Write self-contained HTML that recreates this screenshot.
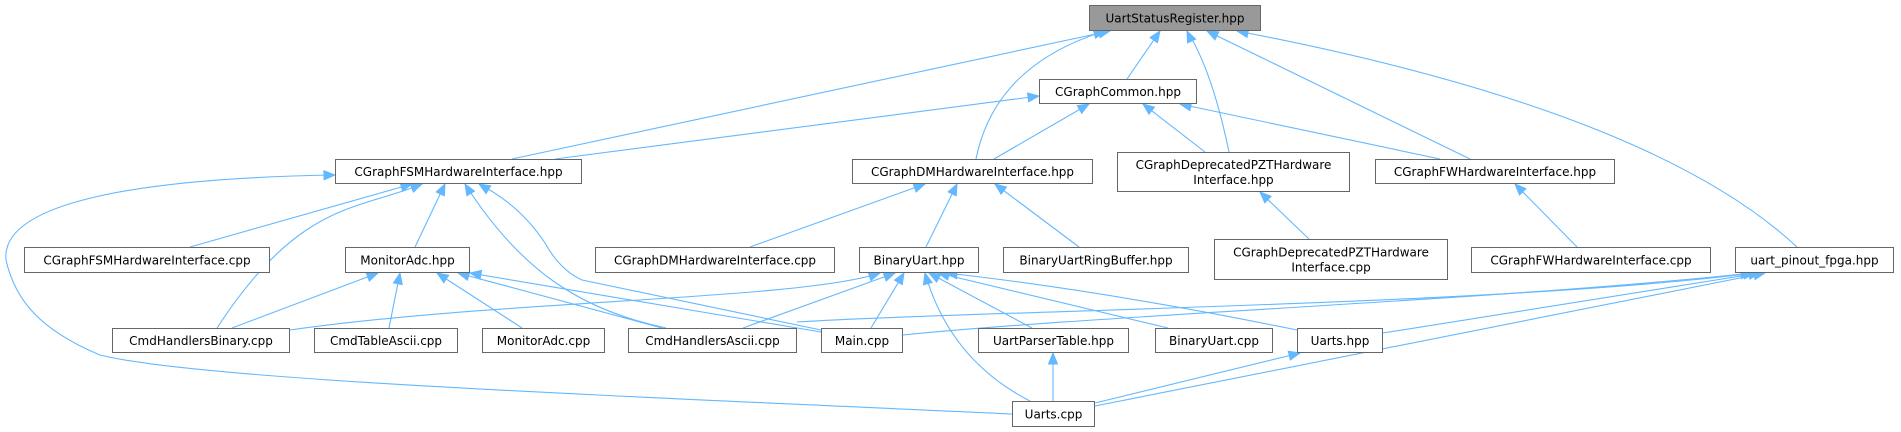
<!DOCTYPE html>
<html><head><meta charset="utf-8"><style>
html,body{margin:0;padding:0;background:#fff;}
svg{display:block;}
text{font-family:"DejaVu Sans","Liberation Sans",sans-serif;font-size:12px;fill:#000;}
</style></head><body>
<svg id="g" width="1901" height="432" viewBox="0 0 1901 432" xmlns="http://www.w3.org/2000/svg"></svg>
<script>
const NS="http://www.w3.org/2000/svg";
const g=document.getElementById('g');
function el(t,a,txt){const e=document.createElementNS(NS,t);for(const k in a)e.setAttribute(k,a[k]);if(txt!==undefined)e.textContent=txt;g.appendChild(e);return e;}
const C="#63b8ff";
const E=[
["M512,159 L1110,31",1110,31,512,159],
["M555,159 L1039,96",1039,96,555,159],
["M976,159 Q995,65 1105,31",1105,31,1000,60],
["M1127,79 L1160,31",1160,31,1127,79],
["M1229,152 Q1212,70 1187,31",1187,31,1205,70],
["M1470,159 L1207,31",1207,31,1470,159],
["M1797,247 Q1650,110 1237,31",1237,31,1600,100],
["M994,159 L1089,104",1089,104,994,159],
["M1205,152 L1143,104",1143,104,1205,152],
["M1440,159 L1180,104",1180,104,1440,159],
["M190,247 L412,184",412,184,190,247],
["M415,247 L445,184",445,184,415,247],
["M217,328 C300,200 360,210 422,184",422,184,380,200],
["M666,328 C580,310 520,270 465,184",465,184,490,225],
["M821,330 L582,280 Q560,270 545,243 Q520,205 479,184",479,184,505,200],
["M1012,414 C600,395 200,380 100,355 C40,330 15,300 6,260 C0,200 150,178 335,175",335,175,250,177],
["M750,247 L925,184",925,184,750,247],
["M926,247 L957,184",957,184,926,247],
["M1079,247 L995,184",995,184,1079,247],
["M1309,239 L1260,192",1260,192,1309,239],
["M1577,247 L1515,184",1515,184,1577,247],
["M232,328 L378,273",378,273,232,328],
["M389,328 L400,273",400,273,389,328],
["M522,328 L437,273",437,273,522,328],
["M662,328 L458,273",458,273,662,328],
["M821,332 L470,273",470,273,821,332],
["M290,330 C500,300 800,300 880,273",880,273,820,292],
["M743,328 L895,273",895,273,743,328],
["M871,328 L904,273",904,273,871,328],
["M1030,401 Q950,360 925,273",925,273,940,330],
["M1032,328 L929,273",929,273,1032,328],
["M1168,328 L938,273",938,273,1168,328],
["M1297,330 Q1100,290 946,273",946,273,1100,290],
["M797,322 C1000,310 1500,305 1755,273",1755,273,1500,305],
["M903,335 C1100,315 1500,300 1752,273",1752,273,1500,300],
["M1383,333 L1760,273",1760,273,1383,333],
["M1095,406 L1765,273",1765,273,1095,406],
["M1053,401 L1053,353",1053,353,1053,401],
["M1095,403 L1300,353",1300,353,1095,403]
];
for(const e of E){
 el('path',{d:e[0],fill:'none',stroke:C,'stroke-width':1.1});
 const [tx,ty,fx,fy]=[e[1],e[2],e[3],e[4]];
 let dx=tx-fx,dy=ty-fy;const L=Math.hypot(dx,dy);dx/=L;dy/=L;
 const bx=tx-dx*11,by=ty-dy*11,px=-dy*4.5,py=dx*4.5;
 el('polygon',{points:`${tx},${ty} ${bx+px},${by+py} ${bx-px},${by-py}`,fill:C,stroke:C});
}
const N=[
[1089,1261,5,31,["UartStatusRegister.hpp"],1],
[1039,1197,79,104,["CGraphCommon.hpp"]],
[335,582,159,184,["CGraphFSMHardwareInterface.hpp"]],
[852,1093,159,184,["CGraphDMHardwareInterface.hpp"]],
[1117,1350,152,192,["CGraphDeprecatedPZTHardware","Interface.hpp"]],
[1375,1615,159,184,["CGraphFWHardwareInterface.hpp"]],
[24,270,247,273,["CGraphFSMHardwareInterface.cpp"]],
[345,470,247,273,["MonitorAdc.hpp"]],
[595,835,247,273,["CGraphDMHardwareInterface.cpp"]],
[859,979,247,273,["BinaryUart.hpp"]],
[1003,1189,247,273,["BinaryUartRingBuffer.hpp"]],
[1214,1448,239,280,["CGraphDeprecatedPZTHardware","Interface.cpp"]],
[1471,1711,247,273,["CGraphFWHardwareInterface.cpp"]],
[1735,1894,247,273,["uart_pinout_fpga.hpp"]],
[112,290,328,353,["CmdHandlersBinary.cpp"]],
[314,458,328,353,["CmdTableAscii.cpp"]],
[482,605,328,353,["MonitorAdc.cpp"]],
[628,797,328,353,["CmdHandlersAscii.cpp"]],
[821,903,328,353,["Main.cpp"]],
[978,1129,328,353,["UartParserTable.hpp"]],
[1155,1273,328,353,["BinaryUart.cpp"]],
[1297,1383,328,353,["Uarts.hpp"]],
[1012,1095,401,427,["Uarts.cpp"]]
];
for(const n of N){
 el('rect',{x:n[0]+0.5,y:n[2]+0.5,width:n[1]-n[0]-1,height:n[3]-n[2]-1,fill:n[5]?'#999999':'#ffffff',stroke:'#666666','stroke-width':1});
 const cx=(n[0]+n[1])/2,cy=(n[2]+n[3])/2;
 const lines=n[4];
 lines.forEach((t,i)=>{
  const y=cy+(i-(lines.length-1)/2)*15+4.5;
  el('text',{x:cx,y:y,'text-anchor':'middle'},t);
 });
}
</script>
</body></html>
